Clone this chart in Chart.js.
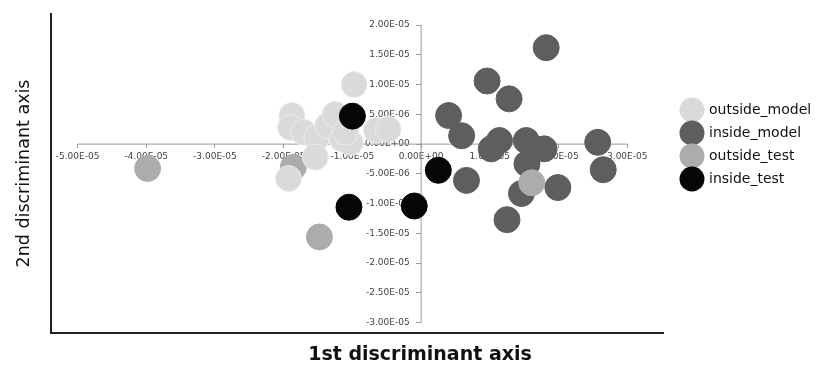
<!DOCTYPE html>
<html><head><meta charset="utf-8">
<script src="https://cdn.jsdelivr.net/npm/chart.js@4"></script>
<style>html,body{margin:0;padding:0;background:#fff;}#wrap{width:827px;height:374px;position:relative;}</style>
</head><body><div id="wrap"><canvas id="c"></canvas></div>
<script>
// ---- data ----
const seriesNames = ['outside_model', 'inside_model', 'outside_test', 'inside_test'];
const seriesColors = ['#dadada', '#5e5e5e', '#acacac', '#060606'];

const outsideModelX = [-0.975e-5, -1.88e-5, -1.90e-5, -1.71e-5, -1.52e-5, -1.36e-5, -1.25e-5, -1.15e-5, -1.03e-5, -1.10e-5, -0.65e-5, -0.48e-5, -1.54e-5, -1.93e-5];
const outsideModelY = [1.00e-5, 0.48e-5, 0.28e-5, 0.20e-5, 0.11e-5, 0.31e-5, 0.50e-5, 0.09e-5, 0.03e-5, 0.20e-5, 0.23e-5, 0.25e-5, -0.22e-5, -0.58e-5];

const insideModelX = [1.82e-5, 0.96e-5, 1.28e-5, 0.40e-5, 0.59e-5, 1.14e-5, 1.02e-5, 1.53e-5, 1.79e-5, 2.57e-5, 1.54e-5, 2.65e-5, 0.66e-5, 1.99e-5, 1.46e-5, 1.25e-5];
const insideModelY = [1.62e-5, 1.06e-5, 0.76e-5, 0.48e-5, 0.14e-5, 0.06e-5, -0.08e-5, 0.06e-5, -0.08e-5, 0.03e-5, -0.33e-5, -0.43e-5, -0.61e-5, -0.73e-5, -0.83e-5, -1.27e-5];

const outsideTestX = [-3.98e-5, -1.86e-5, -1.48e-5, 1.61e-5];
const outsideTestY = [-0.41e-5, -0.39e-5, -1.56e-5, -0.65e-5];

const insideTestX = [-1.00e-5, -1.05e-5, -0.10e-5, 0.25e-5];
const insideTestY = [0.47e-5, -1.06e-5, -1.04e-5, -0.44e-5];

const xTickValues = [-5e-5, -4e-5, -3e-5, -2e-5, -1e-5, 0, 1e-5, 2e-5, 3e-5];
const xTickLabels = ['-5.00E-05', '-4.00E-05', '-3.00E-05', '-2.00E-05', '-1.00E-05', '0.00E+00', '1.00E-05', '2.00E-05', '3.00E-05'];
const yTickValues = [-3e-5, -2.5e-5, -2e-5, -1.5e-5, -1e-5, -5e-6, 0, 5e-6, 1e-5, 1.5e-5, 2e-5];
const yTickLabels = ['-3.00E-05', '-2.50E-05', '-2.00E-05', '-1.50E-05', '-1.00E-05', '-5.00E-06', '0.00E+00', '5.00E-06', '1.00E-05', '1.50E-05', '2.00E-05'];

const xTitle = '1st discriminant axis';
const yTitle = '2nd discriminant axis';

// ---- build ----
const pts = (xs, ys) => xs.map((x, i) => ({x: x, y: ys[i]}));
const seriesPoints = [
  pts(outsideModelX, outsideModelY),
  pts(insideModelX, insideModelY),
  pts(outsideTestX, outsideTestY),
  pts(insideTestX, insideTestY)
];
const drawOrder = [1, 3, 2, 0]; // lower = drawn on top

function lookup(values, labels, v) {
  const i = values.findIndex(t => Math.abs(t - v) < 1e-12);
  return i >= 0 ? labels[i] : '';
}

// legend swatches (circle sits slightly right of the image centre)
const swatches = seriesColors.map(col => {
  const cv = document.createElement('canvas');
  cv.width = 36; cv.height = 26;
  const g = cv.getContext('2d');
  g.fillStyle = col;
  g.beginPath(); g.arc(23, 13, 12.5, 0, Math.PI * 2); g.fill();
  return cv;
});

const axisLines = {
  id: 'axisLines',
  beforeDatasetsDraw(chart) {
    const {ctx} = chart;
    const x = chart.scales.x, y = chart.scales.y;
    const x0 = x.getPixelForValue(0), y0 = y.getPixelForValue(0);
    ctx.save();
    ctx.strokeStyle = '#9c9c9c';
    ctx.lineWidth = 1;
    ctx.beginPath();
    ctx.moveTo(x.getPixelForValue(xTickValues[0]), y0);
    ctx.lineTo(x.getPixelForValue(xTickValues[xTickValues.length - 1]), y0);
    ctx.moveTo(x0, y.getPixelForValue(yTickValues[0]));
    ctx.lineTo(x0, y.getPixelForValue(yTickValues[yTickValues.length - 1]));
    ctx.stroke();
    ctx.restore();
  }
};

// widen the legend box so the plot area ends where the reference's does
const legendWidth = {
  id: 'legendWidth',
  beforeInit(chart) {
    const lg = chart.legend;
    if (!lg || lg._wideFit) return;
    const orig = lg.fit.bind(lg);
    lg.fit = function () { orig(); this.width = 164; };
    lg._wideFit = true;
  }
};

Chart.defaults.font.family = '"DejaVu Sans", sans-serif';
const tickFont = {size: 9, family: '"DejaVu Sans", sans-serif'};

new Chart(document.getElementById('c'), {
  type: 'scatter',
  data: {
    datasets: seriesNames.map((n, i) => ({
      label: n,
      data: seriesPoints[i],
      xAxisID: 'x',
      yAxisID: 'y',
      order: drawOrder[i],
      pointRadius: 13,
      pointHoverRadius: 13,
      backgroundColor: seriesColors[i],
      borderColor: i === 0 ? '#ececec' : seriesColors[i],
      borderWidth: 1
    }))
  },
  options: {
    responsive: true,
    maintainAspectRatio: false,
    animation: false,
    events: [],
    layout: {padding: {top: 13, right: 0, bottom: 0, left: 13}},
    scales: {
      x: {
        type: 'linear',
        position: {y: 0},
        min: -5.386e-5,
        max: 3.52e-5,
        afterBuildTicks: s => { s.ticks = xTickValues.map(v => ({value: v})); },
        ticks: {
          font: tickFont, color: '#444', padding: 3, maxRotation: 0, autoSkip: false,
          callback: v => lookup(xTickValues, xTickLabels, v)
        },
        grid: {display: true, drawOnChartArea: false, drawTicks: true, tickLength: 4, color: '#9c9c9c'},
        border: {display: false}
      },
      y: {
        type: 'linear',
        position: {x: 0},
        min: -3.174e-5,
        max: 2.186e-5,
        afterBuildTicks: s => { s.ticks = yTickValues.map(v => ({value: v})); },
        ticks: {
          font: tickFont, color: '#444', padding: 6, autoSkip: false,
          callback: v => lookup(yTickValues, yTickLabels, v) + '    '
        },
        grid: {display: true, drawOnChartArea: false, drawTicks: true, tickLength: 5, color: '#9c9c9c'},
        border: {display: false}
      },
      xFrame: {
        type: 'linear', axis: 'x', position: 'bottom',
        ticks: {display: false},
        grid: {display: false, drawTicks: false},
        border: {display: true, color: '#222', width: 2}
      },
      yFrame: {
        type: 'linear', axis: 'y', position: 'left',
        ticks: {display: false},
        grid: {display: false, drawTicks: false},
        border: {display: true, color: '#222', width: 2},
        title: {
          display: true, text: yTitle, color: '#111',
          font: {size: 17.5, family: '"DejaVu Sans", sans-serif'},
          padding: {top: 1, bottom: 16}
        }
      }
    },
    plugins: {
      tooltip: {enabled: false},
      title: {
        display: true, position: 'bottom', text: xTitle, color: '#111',
        font: {size: 19, weight: 'bold', family: '"DejaVu Sans", sans-serif'},
        padding: {top: 11.1, bottom: 7.1}
      },
      legend: {
        position: 'right',
        align: 'start',
        fullSize: false,
        title: {display: true, text: '', font: {size: 10}, padding: {top: 68, bottom: 0}},
        labels: {
          usePointStyle: true,
          pointStyleWidth: 30,
          padding: 9,
          color: '#111',
          font: {size: 14, family: '"DejaVu Sans", sans-serif'},
          sort: (a, b) => a.datasetIndex - b.datasetIndex,
          generateLabels: chart => {
            const items = Chart.defaults.plugins.legend.labels.generateLabels(chart);
            items.forEach(it => { it.pointStyle = swatches[it.datasetIndex]; });
            return items;
          }
        }
      }
    }
  },
  plugins: [legendWidth, axisLines]
});
</script>
</body></html>
